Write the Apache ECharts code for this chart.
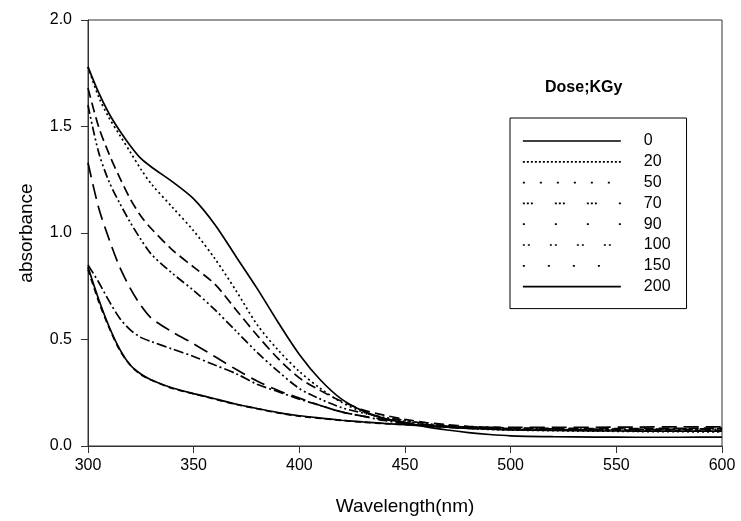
<!DOCTYPE html>
<html>
<head>
<meta charset="utf-8">
<title>absorbance</title>
<script src="https://cdn.jsdelivr.net/npm/echarts@6/dist/echarts.min.js"></script>
<style>
  html, body { margin: 0; padding: 0; background: #fff; }
  #chart { width: 741px; height: 521px; }
</style>
</head>
<body>
<div id="chart"></div>
<script>
// wavelength (nm)
const wavelengths = [300, 305, 310, 315, 320, 325, 330, 340, 350, 360, 370, 380, 390, 400, 410, 420, 430, 440, 450, 460, 470, 480, 490, 500, 520, 540, 560, 580, 600];

// absorbance per dose (kGy)
const dose0   = [1.78, 1.66, 1.56, 1.48, 1.41, 1.35, 1.31, 1.24, 1.16, 1.04, 0.89, 0.74, 0.58, 0.43, 0.31, 0.22, 0.165, 0.13, 0.11, 0.09, 0.075, 0.063, 0.054, 0.048, 0.044, 0.042, 0.041, 0.041, 0.042];
const dose20  = [1.78, 1.64, 1.54, 1.46, 1.38, 1.30, 1.23, 1.12, 1.01, 0.88, 0.73, 0.57, 0.45, 0.35, 0.27, 0.205, 0.16, 0.13, 0.115, 0.10, 0.09, 0.083, 0.078, 0.075, 0.072, 0.07, 0.068, 0.067, 0.066];
const dose50  = [1.68, 1.50, 1.37, 1.26, 1.16, 1.08, 1.02, 0.92, 0.84, 0.76, 0.64, 0.52, 0.41, 0.32, 0.26, 0.21, 0.17, 0.145, 0.125, 0.11, 0.10, 0.092, 0.088, 0.085, 0.083, 0.082, 0.082, 0.083, 0.084];
const dose70  = [1.60, 1.38, 1.24, 1.14, 1.05, 0.97, 0.90, 0.81, 0.73, 0.64, 0.54, 0.44, 0.35, 0.27, 0.22, 0.18, 0.155, 0.135, 0.12, 0.105, 0.095, 0.088, 0.084, 0.082, 0.08, 0.079, 0.079, 0.08, 0.08];
const dose90  = [1.33, 1.12, 0.97, 0.84, 0.74, 0.66, 0.60, 0.535, 0.48, 0.42, 0.36, 0.305, 0.26, 0.225, 0.19, 0.16, 0.14, 0.125, 0.11, 0.10, 0.093, 0.09, 0.088, 0.087, 0.087, 0.088, 0.089, 0.09, 0.09];
const dose100 = [0.85, 0.77, 0.68, 0.60, 0.545, 0.51, 0.49, 0.455, 0.42, 0.38, 0.34, 0.29, 0.255, 0.22, 0.19, 0.16, 0.14, 0.12, 0.105, 0.095, 0.088, 0.083, 0.08, 0.078, 0.076, 0.076, 0.077, 0.078, 0.078];
const dose150 = [0.83, 0.68, 0.555, 0.45, 0.38, 0.335, 0.31, 0.27, 0.245, 0.22, 0.195, 0.175, 0.155, 0.14, 0.13, 0.12, 0.112, 0.105, 0.10, 0.095, 0.09, 0.086, 0.083, 0.08, 0.077, 0.075, 0.074, 0.073, 0.073];
const dose200 = [0.84, 0.69, 0.56, 0.455, 0.38, 0.338, 0.31, 0.272, 0.246, 0.222, 0.197, 0.176, 0.157, 0.142, 0.131, 0.121, 0.113, 0.106, 0.10, 0.094, 0.088, 0.083, 0.079, 0.076, 0.073, 0.071, 0.07, 0.07, 0.07];

const doseLabels = ['0', '20', '50', '70', '90', '100', '150', '200'];
const doseValues = [dose0, dose20, dose50, dose70, dose90, dose100, dose150, dose200];

// dash patterns used on the curves
const curveDash = ['solid', [2, 3], [10, 5], [9, 3, 2, 3, 2, 3], [15, 7], [10, 3, 2, 3], [6, 4], 'solid'];
// the legend swatches look different (sparse dots) in the original
const legendDash = ['solid', [2, 2], [2, 15], [2, 2, 2, 2, 2, 22], [2, 30], [2, 3, 2, 20], [2, 23], 'solid'];

const font = 'Liberation Sans, Arial, sans-serif';

const series = doseLabels.map((name, i) => ({
  name: name,
  type: 'line',
  smooth: 0.3,
  symbol: 'none',
  data: wavelengths.map((w, j) => [w, doseValues[i][j]]),
  lineStyle: { color: '#000', width: 1.7, type: curveDash[i] },
  itemStyle: { color: '#000' },
  z: 10 - i
}));

const option = {
  animation: false,
  textStyle: { fontFamily: font },
  title: {
    text: 'Dose;KGy',
    left: 540,
    top: 75,
    textStyle: { fontFamily: font, fontSize: 16, fontWeight: 'bold', color: '#000' }
  },
  legend: {
    orient: 'vertical',
    left: 510,
    top: 118,
    padding: [15, 16, 14, 12],
    itemWidth: 98,
    itemHeight: 14,
    itemGap: 4.8,
    borderColor: '#000',
    borderWidth: 1,
    itemStyle: { opacity: 0 },
    data: doseLabels.map((name, i) => ({
      name: name,
      itemStyle: { opacity: 0 },
      lineStyle: { width: 1.7, type: legendDash[i] }
    })),
    textStyle: { fontFamily: font, fontSize: 16, lineHeight: 16, color: '#000', padding: [0, 0, 0, 18] }
  },
  grid: {
    left: 88,
    right: 19,
    top: 20,
    bottom: 72,
    show: true,
    borderColor: '#333',
    borderWidth: 1
  },
  xAxis: {
    type: 'value',
    min: 300,
    max: 600,
    interval: 50,
    name: 'Wavelength(nm)',
    nameLocation: 'middle',
    nameGap: 51,
    nameTextStyle: { fontFamily: font, fontSize: 19, color: '#000' },
    axisLine: { lineStyle: { color: '#333', width: 1 } },
    axisTick: { length: 7, lineStyle: { color: '#333' } },
    axisLabel: { fontFamily: font, fontSize: 16, color: '#000', margin: 12 },
    splitLine: { show: false }
  },
  yAxis: {
    type: 'value',
    min: 0,
    max: 2,
    interval: 0.5,
    name: 'absorbance',
    nameLocation: 'middle',
    nameGap: 52,
    nameTextStyle: { fontFamily: font, fontSize: 19, color: '#000' },
    axisLine: { show: true, lineStyle: { color: '#333', width: 1 } },
    axisTick: { show: true, length: 7, lineStyle: { color: '#333' } },
    axisLabel: {
      fontFamily: font, fontSize: 16, color: '#000', margin: 16,
      formatter: v => v.toFixed(1)
    },
    splitLine: { show: false }
  },
  series: series
};

const myChart = echarts.init(document.getElementById('chart'));
myChart.setOption(option);
</script>
</body>
</html>
